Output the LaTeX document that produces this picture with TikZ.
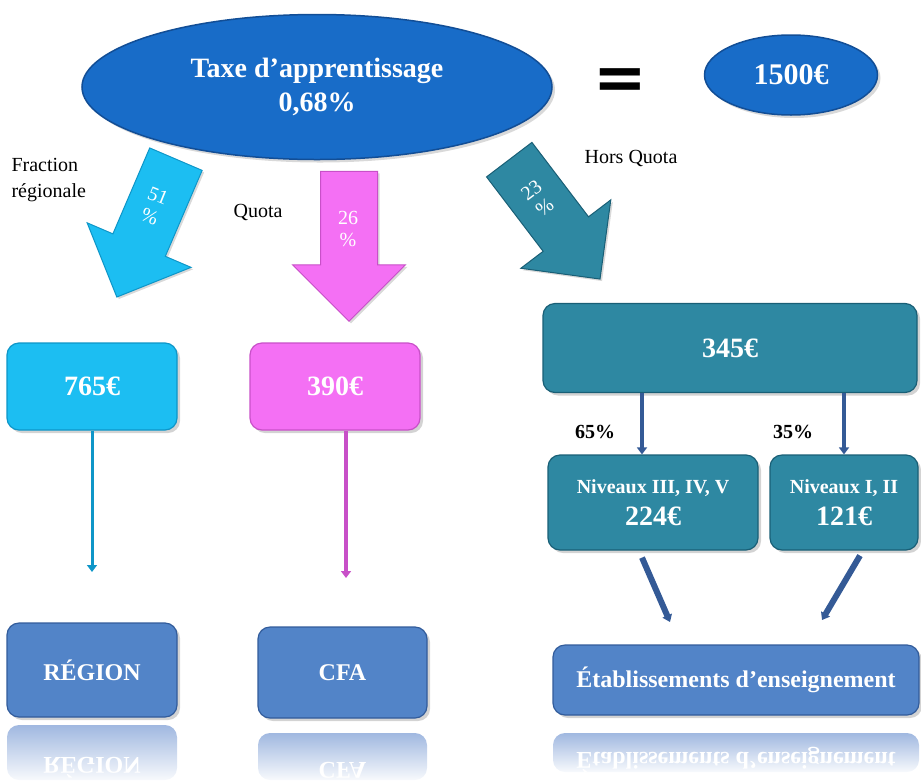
\documentclass[tikz,border=0pt]{standalone}
\usepackage{fontspec}
\setmainfont{Liberation Serif}
\newfontfamily\eqfont{DejaVu Sans}
\usetikzlibrary{shapes.geometric,shapes.arrows,arrows.meta,shadows}
\definecolor{ovalbox}{RGB}{24,108,200}
\definecolor{ovalrim}{RGB}{18,78,150}
\definecolor{cyanbox}{RGB}{28,190,242}
\definecolor{cyanrim}{RGB}{14,150,200}
\definecolor{pinkbox}{RGB}{244,112,244}
\definecolor{pinkrim}{RGB}{200,80,200}
\definecolor{tealbox}{RGB}{46,136,162}
\definecolor{tealrim}{RGB}{25,95,118}
\definecolor{steelbox}{RGB}{82,132,200}
\definecolor{steelrim}{RGB}{50,92,155}
\definecolor{linkblue}{RGB}{52,90,150}
\definecolor{reflect}{RGB}{160,184,224}
\begin{document}
\begin{tikzpicture}[x=1pt,y=-1pt,
    pbox/.style={rectangle,rounded corners=12pt,fill=#1box,draw=#1rim,line width=1.2pt,
      text=white,inner sep=0pt,align=center,
      drop shadow={shadow xshift=3pt,shadow yshift=-3pt,opacity=.35}},
    fat/.style={single arrow,shape border rotate=270,fill=#1box,draw=#1rim,line width=1pt,
      minimum height=150pt,minimum width=112pt,text width=56pt,single arrow head extend=28pt,
      inner sep=0pt,drop shadow={shadow xshift=2pt,shadow yshift=-2pt,opacity=.3}},
    pct/.style={text=white,align=center,font=\fontsize{20}{22}\selectfont},
    mirror/.style={yscale=-1,text=white,font=\bfseries\fontsize{24}{24}\selectfont}]

      \useasboundingbox (0,0) rectangle (921,780);

      \begin{scope}[every node/.style={ellipse,fill=ovalbox,draw=ovalrim,line width=1.5pt,
          text=white,align=center,inner sep=0pt,
          drop shadow={shadow xshift=3pt,shadow yshift=-3pt,opacity=.3}}]
        \node[minimum width=470pt,minimum height=145pt,font=\bfseries\fontsize{28}{34}\selectfont]
          (1) at (317,87) {Taxe d’apprentissage\\0,68\%};
        \node[minimum width=173pt,minimum height=80pt,font=\bfseries\fontsize{30}{30}\selectfont]
          (2) at (791,75) {1500€};
      \end{scope}

      \node[font=\eqfont\bfseries\fontsize{64}{64}\selectfont] (3) at (620,84) {=};

      \node[fat=cyan,rotate=-23.2] (4) at (152,215) {};
      \node[fat=pink] (5) at (349,232) {};
      \node[fat=teal,rotate=37.25] (6) at (546,208) {};
      \node[pct,rotate=-22] (23) at (154,206) {51\\\%};
      \node[pct] (24) at (348,229) {26\\\%};
      \node[pct,rotate=37] (25) at (538,199) {23\\\%};

      \begin{scope}[every node/.style={font=\fontsize{20}{26}\selectfont,align=left}]
        \node[anchor=west] (7) at (8,180) {Fraction\\régionale};
        \node (8) at (258,212) {Quota};
        \node (9) at (631,158) {Hors Quota};
      \end{scope}

      \begin{scope}[every node/.style={font=\bfseries\fontsize{28}{30}\selectfont}]
        \node[pbox=cyan,minimum width=170pt,minimum height=87pt] (10) at (92,386.5) {765€};
        \node[pbox=pink,minimum width=170pt,minimum height=87pt] (11) at (335,386.5) {390€};
        \node[pbox=teal,minimum width=374pt,minimum height=89pt] (12) at (730,348) {345€};
        \node[pbox=teal,minimum width=210pt,minimum height=95pt] (13) at (653,502.5)
          {{\fontsize{20}{24}\selectfont Niveaux III, IV, V}\\[2pt]224€};
        \node[pbox=teal,minimum width=148pt,minimum height=95pt] (14) at (844,502.5)
          {{\fontsize{20}{24}\selectfont Niveaux I, II}\\[2pt]121€};
      \end{scope}

      \begin{scope}[every node/.style={font=\bfseries\fontsize{24}{28}\selectfont}]
        \node[pbox=steel,minimum width=170pt,minimum height=94pt] (15) at (92,670) {RÉGION};
        \node[pbox=steel,minimum width=169pt,minimum height=91pt] (16) at (342.5,672.5) {CFA};
        \node[pbox=steel,minimum width=366pt,minimum height=70pt] (17) at (736,680)
          {Établissements d’enseignement};
      \end{scope}

      \shade[top color=reflect,bottom color=reflect!8,rounded corners=12pt] (7,725) rectangle (177,780);
      \shade[top color=reflect,bottom color=reflect!8,rounded corners=12pt] (258,733) rectangle (427,780);
      \shade[top color=reflect,bottom color=reflect!8,rounded corners=12pt] (553,733) rectangle (919,772);
      \node[mirror] (18) at (92,768) {RÉGION};
      \node[mirror] (19) at (342.5,770) {CFA};
      \node[mirror] (20) at (736,760) {Établissements d’enseignement};

      \node[font=\bfseries\fontsize{20}{24}\selectfont] (21) at (595,432) {65\%};
      \node[font=\bfseries\fontsize{20}{24}\selectfont] (22) at (793,432) {35\%};

      \coordinate (c1) at (92,572);
      \coordinate (c2) at (346,578);
      \coordinate (c3) at (670,622);
      \coordinate (c4) at (822,620);

      \begin{scope}[>={Triangle[width=10pt,length=7pt]}]
        \path (10.south) edge[draw=cyanrim,line width=3pt,->] (c1);
        \path ([xshift=11pt]11.south) edge[draw=pinkrim,line width=4pt,->] (c2);
        \path ([xshift=-11pt]13.north |- 12.south) edge[draw=linkblue,line width=4.5pt,->] ([xshift=-11pt]13.north);
        \path (14.north |- 12.south) edge[draw=linkblue,line width=4.5pt,->] (14.north);
        \path ([xshift=-11pt,yshift=-7pt]13.south) edge[draw=linkblue,line width=6pt,->] (c3);
        \path ([xshift=16pt,yshift=-5pt]14.south) edge[draw=linkblue,line width=6pt,->] (c4);
      \end{scope}

    \end{tikzpicture}
\end{document}
